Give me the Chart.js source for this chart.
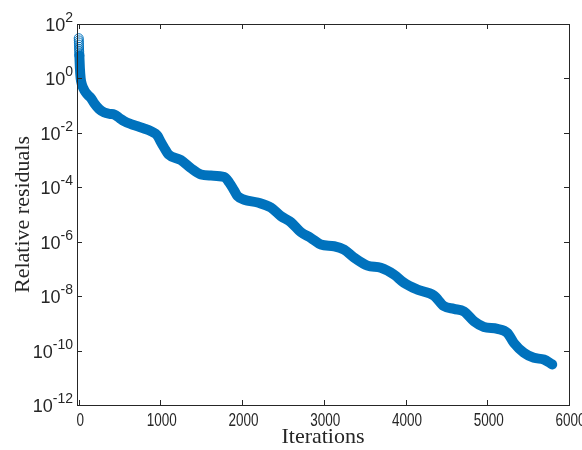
<!DOCTYPE html>
<html>
<head>
<meta charset="utf-8">
<script src="https://cdn.jsdelivr.net/npm/chart.js@4.4.0/dist/chart.umd.min.js"></script>
<style>
html, body { margin: 0; padding: 0; background: #fff; }
#wrap { width: 582px; height: 450px; }
</style>
</head>
<body>
<div id="wrap"><canvas id="residualChart"></canvas></div>
<script>
// first iterations, drawn as separate open circles
var firstIters = [1, 2, 3, 4, 5, 6, 7, 8, 9];
var firstResiduals = [30, 25, 21, 17.5, 14.5, 12, 10, 8.3, 7.0];

// rest of the run, markers overlap into a solid band
var iters = [9, 15, 25, 40, 60, 85, 112, 150, 193, 250, 315, 380, 437, 500, 556, 640, 723, 800, 886, 940, 968,
    1000, 1045, 1100, 1250, 1375, 1497, 1619, 1782, 1843, 1900, 1945, 2026, 2190, 2352, 2475, 2597, 2719, 2841,
    2963, 3126, 3248, 3370, 3534, 3697, 3859, 3981, 4145, 4348, 4470, 4592, 4715, 4837, 4959, 5123, 5245, 5326,
    5448, 5570, 5692, 5795];
var residuals = [7.0, 2.5, 1.0, 0.6, 0.42, 0.31, 0.25, 0.19, 0.12, 0.075, 0.056, 0.050, 0.047, 0.035, 0.027, 0.021,
    0.0174, 0.0145, 0.0115, 0.0093, 0.0076, 0.0050, 0.0029, 0.0016, 0.0010, 5.0e-4, 2.95e-4, 2.7e-4, 2.4e-4,
    1.48e-4, 7.9e-5, 4.7e-5, 3.5e-5, 2.75e-5, 1.8e-5, 8.7e-6, 5.2e-6, 2.24e-6, 1.38e-6, 7.9e-7, 6.8e-7, 5.1e-7,
    2.6e-7, 1.32e-7, 1.1e-7, 6.2e-8, 3.1e-8, 1.74e-8, 1.05e-8, 4.3e-9, 3.4e-9, 2.75e-9, 1.2e-9, 7.4e-10, 6.3e-10,
    4.5e-10, 1.9e-10, 8.3e-11, 5.4e-11, 4.7e-11, 3.1e-11];

var xTicks = [0, 1000, 2000, 3000, 4000, 5000, 6000];
var yExponents = [2, 0, -2, -4, -6, -8, -10, -12];

var blue = '#0072BD';
var axisColor = '#262626';

function toPoints(xs, ys) {
    var pts = [];
    for (var i = 0; i < xs.length; i++) {
        pts.push({ x: xs[i], y: ys[i] });
    }
    return pts;
}

// MATLAB-like box, inward ticks and tick labels
var matlabAxes = {
    id: 'matlabAxes',
    afterDraw: function(chart) {
        var ctx = chart.ctx;
        var a = chart.chartArea;
        var xs = chart.scales.x;
        var ys = chart.scales.y;
        var tl = 5;
        ctx.save();
        ctx.strokeStyle = axisColor;
        ctx.lineWidth = 1;
        ctx.strokeRect(Math.round(a.left) + 0.5, Math.round(a.top) + 0.5,
            Math.round(a.right - a.left), Math.round(a.bottom - a.top));
        ctx.beginPath();
        xTicks.forEach(function(v) {
            var px = Math.round(xs.getPixelForValue(v)) + 0.5;
            ctx.moveTo(px, a.bottom); ctx.lineTo(px, a.bottom - tl);
            ctx.moveTo(px, a.top); ctx.lineTo(px, a.top + tl);
        });
        yExponents.forEach(function(e) {
            var py = Math.round(ys.getPixelForValue(Math.pow(10, e))) + 0.5;
            ctx.moveTo(a.left, py); ctx.lineTo(a.left + tl, py);
            ctx.moveTo(a.right, py); ctx.lineTo(a.right - tl, py);
        });
        ctx.stroke();

        ctx.fillStyle = axisColor;
        ctx.textBaseline = 'alphabetic';

        // x labels: tall, condensed digits
        ctx.font = '18px "Liberation Sans", Arial, sans-serif';
        ctx.textAlign = 'center';
        xTicks.forEach(function(v) {
            var px = xs.getPixelForValue(v) + 1.5;
            ctx.save();
            ctx.translate(px, a.bottom + 21);
            ctx.scale(0.75, 1);
            ctx.fillText(String(v), 0, 0);
            ctx.restore();
        });

        // y labels: 10 with raised exponent
        yExponents.forEach(function(e) {
            var py = ys.getPixelForValue(Math.pow(10, e));
            var expText = e < 0 ? '-' + (-e) : String(e);
            ctx.font = '14px "Liberation Sans", Arial, sans-serif';
            var ew = ctx.measureText(expText).width;
            var right = a.left - 4;
            ctx.textAlign = 'left';
            ctx.fillText(expText, right - ew, py - 2);
            ctx.font = '18px "Liberation Sans", Arial, sans-serif';
            ctx.textAlign = 'right';
            ctx.fillText('10', right - ew, py + 7);
        });
        ctx.restore();
    }
};

var ctx = document.getElementById('residualChart').getContext('2d');
var chart = new Chart(ctx, {
    type: 'scatter',
    data: {
        datasets: [
            {
                label: 'first iterations',
                data: toPoints(firstIters, firstResiduals),
                showLine: false,
                clip: false,
                pointStyle: 'circle',
                pointRadius: 4.5,
                pointBorderWidth: 1,
                pointBorderColor: blue,
                pointBackgroundColor: 'rgba(0,0,0,0)'
            },
            {
                label: 'Relative residuals',
                data: toPoints(iters, residuals),
                showLine: true,
                clip: false,
                borderColor: blue,
                borderWidth: 10,
                borderCapStyle: 'round',
                borderJoinStyle: 'round',
                cubicInterpolationMode: 'monotone',
                pointRadius: 0
            }
        ]
    },
    options: {
        responsive: true,
        maintainAspectRatio: false,
        animation: false,
        layout: {
            padding: { top: 24, right: 13, left: 10, bottom: 0 }
        },
        scales: {
            x: {
                type: 'linear',
                min: -20,
                max: 6000,
                grid: { display: false, drawTicks: false },
                border: { display: false },
                ticks: { display: false },
                afterFit: function(scale) {
                    scale.height = 45;
                },
                title: {
                    display: true,
                    text: 'Iterations',
                    color: axisColor,
                    padding: { top: 0, bottom: 0 },
                    font: { family: '"Liberation Serif", "Times New Roman", serif', size: 22 }
                }
            },
            y: {
                type: 'logarithmic',
                min: 1e-12,
                max: 1e2,
                grid: { display: false, drawTicks: false },
                border: { display: false },
                ticks: { display: false },
                afterFit: function(scale) {
                    scale.width = 67;
                },
                title: {
                    display: true,
                    text: 'Relative residuals',
                    color: axisColor,
                    padding: { top: 0, bottom: 0 },
                    font: { family: '"Liberation Serif", "Times New Roman", serif', size: 22 }
                }
            }
        },
        plugins: {
            legend: { display: false },
            tooltip: { enabled: false }
        }
    },
    plugins: [matlabAxes]
});
</script>
</body>
</html>
